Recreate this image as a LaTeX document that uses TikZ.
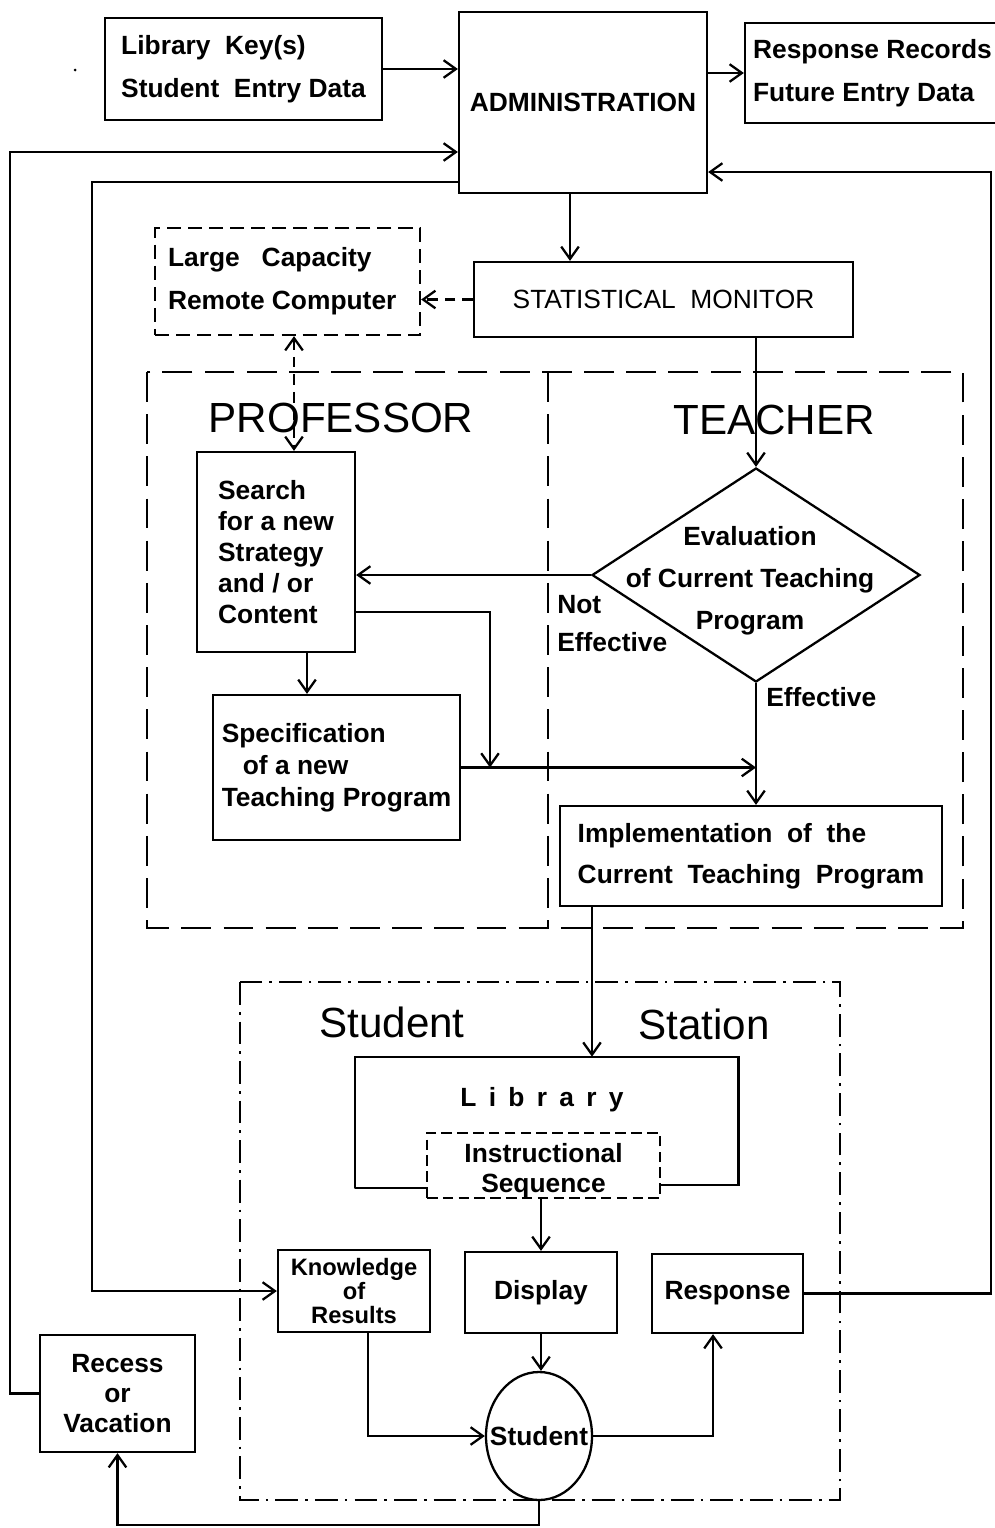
\documentclass[tikz,border=0pt]{standalone}
\usepackage{fontspec}
\setmainfont{Liberation Sans}
\usetikzlibrary{arrows.meta,shapes.geometric}
\newcommand{\pu}{0.02cm}
\newcommand{\lsp}{\hspace{7pt}}
\tikzset{
  lw/.style={line width=1.3pt},
  box/.style={draw,lw,inner sep=0pt,align=center,fill=white},
  tx/.style={inner sep=0pt,align=center},
  bf/.style={font=\bfseries\fontsize{15}{#1}\selectfont},
  arr/.style={lw,-{Straight Barb[length=7pt,width=10pt]}},
  darr/.style={lw,dash pattern=on 6pt off 4pt,{Straight Barb[length=7pt,width=10pt]}-{Straight Barb[length=7pt,width=10pt]}},
  sdash/.style={dash pattern=on 8pt off 4pt},
  bigdash/.style={lw,dash pattern=on 17pt off 7pt},
  dashdot/.style={lw,dash pattern=on 13pt off 4pt on 1.5pt off 4pt},
  big/.style={inner sep=0pt,font=\fontsize{24}{28}\selectfont}
}
\begin{document}
\begin{tikzpicture}[x=0.02cm,y=-0.02cm]
\useasboundingbox (0,0) rectangle (994,1528);
\fill[white] (0,0) rectangle (994,1528);

% top row
\node[box,bf=24.5,align=left,minimum width=277*\pu,minimum height=102*\pu,text depth=3pt] (lib) at (243.5,69) {Library\ \ Key(s)\\Student\ \ Entry Data};
\node[box,bf=18,minimum width=248*\pu,minimum height=181*\pu] (adm) at (583,102.5) {ADMINISTRATION};
\node[box,bf=24.5,align=left,minimum width=255*\pu,minimum height=100*\pu,text depth=3pt] (resp) at (872.5,73) {Response Records\\Future Entry Data};
\fill (75,70) circle (1.5);

% statistical monitor and remote computer
\node[box,minimum width=379*\pu,minimum height=75*\pu,font=\fontsize{15}{18}\selectfont] (sm) at (663.5,299.5) {STATISTICAL\ \ MONITOR};
\node[box,sdash,bf=24.5,align=left,minimum width=265*\pu,minimum height=107*\pu] (lcrc) at (287.5,281.5) {Large\ \ \ Capacity\\Remote\ Computer\hspace*{6pt}};

% professor / teacher frame
\draw[bigdash] (147,372) rectangle (963,928);
\draw[bigdash] (548,372) -- (548,928);
\node[big] (prof) at (341,418) {PROFESSOR};
\node[big] (teach) at (774,420) {TEACHER};

\node[box,bf=17.6,align=left,minimum width=158*\pu,minimum height=200*\pu] (search) at (276,552) {Search\\for a new\\Strategy\\and / or\\Content};
\node[box,bf=18.2,align=left,minimum width=247*\pu,minimum height=145*\pu] (spec) at (336.5,767.5) {Specification\\\hspace*{12pt}of a new\\Teaching Program};
\node[diamond,draw,lw,inner sep=0pt,minimum width=328*\pu,minimum height=214*\pu] (dia) at (756,575) {};
\node[tx,bf=24] (diat) at (750,581) {Evaluation\\of Current Teaching\\Program};
\node[tx,bf=21.6,align=left,anchor=west] (noteff) at (557,624) {Not\\Effective};
\node[tx,bf=18,anchor=west] (eff) at (766,697) {Effective};
\node[box,bf=23.3,align=left,minimum width=382*\pu,minimum height=100*\pu] (impl) at (751,856) {Implementation\ \ of\ \ the\\Current\ \ Teaching\ \ Program};

% student station
\draw[dashdot] (240,982) rectangle (840,1500);
\node[big] (sst) at (392,1022) {Student};
\node[big] (sstn) at (704,1024) {Station};

\node[inner sep=0pt,minimum width=383*\pu,minimum height=131*\pu] (libr) at (546.5,1122.5) {};
\draw[lw] (427,1188) -| (libr.south west) -- (libr.north west) -- (libr.north east) |- (660,1185);
\node[tx,bf=18] (librt) at (542,1100) {L\lsp i\lsp b\lsp r\lsp a\lsp r\lsp y};
\node[box,minimum width=233*\pu,minimum height=65*\pu,dash pattern=on 6pt off 3pt] (iseq) at (543.5,1165.5) {};
\node[tx,bf=17] (iseqt) at (543.5,1171) {Instructional\\Sequence};

\node[box,minimum width=152*\pu,minimum height=82*\pu,font=\bfseries\fontsize{13.5}{13.5}\selectfont] (know) at (354,1291) {Knowledge\\of\\Results};
\node[box,bf=18,minimum width=152*\pu,minimum height=81*\pu] (disp) at (541,1292.5) {Display};
\node[box,bf=18,minimum width=151*\pu,minimum height=79*\pu] (respn) at (727.5,1293.5) {Response};
\node[ellipse,draw,lw,inner sep=0pt,minimum width=106*\pu,minimum height=128*\pu] (stud) at (539,1436) {};
\node[tx,bf=18] (studt) at (539,1436) {Student};
\node[box,bf=17,minimum width=155*\pu,minimum height=117*\pu] (recess) at (117.5,1393.5) {Recess\\or\\Vacation};

% helper coordinates
\coordinate (lA) at (10,152);
\coordinate (lB) at (92,182);
\coordinate (rA) at (991,172);
\coordinate (xa) at (570,0);
\coordinate (xb) at (294,0);
\coordinate (xc) at (307,0);
\coordinate (j1) at (490,612);
\coordinate (xf) at (592,0);
\coordinate (xg) at (368,0);
\coordinate (xh) at (713,0);
\coordinate (yb) at (0,1525);

% connectors
\draw[arr] (lib.east) -- (lib.east -| adm.west);
\draw[arr] (adm.east |- resp.west) -- (resp.west);
\draw[arr] (recess.west) -| (lA) -- (lA -| adm.west);
\draw[arr] (lB -| adm.west) -- (lB) |- (know.west);
\draw[arr] (respn.east) -| (rA) -- (rA -| adm.east);
\draw[arr] (adm.south -| xa) -- (sm.north -| xa);
\draw[arr,dash pattern=on 6pt off 4pt] (sm.west) -- (lcrc.east |- sm.west);
\draw[darr] (lcrc.south -| xb) -- (search.north -| xb);
\draw[arr] (sm.south -| dia.north) -- (dia.north);
\draw[arr] (dia.west) -- (search.east |- dia.west);
\draw[arr] (search.south -| xc) -- (spec.north -| xc);
\draw[arr] (search.east |- j1) -| (spec.east -| j1);
\draw[arr] (spec.east) -- (spec.east -| dia.south);
\draw[arr] (dia.south) -- (impl.north -| dia.south);
\draw[arr] (impl.south -| xf) -- (libr.north -| xf);
\draw[arr] (iseq.south -| disp.north) -- (disp.north);
\draw[arr] (disp.south) -- (disp.south |- stud.north);
\draw[arr] (know.south -| xg) |- (stud.west);
\draw[arr] (stud.east) -| (respn.south -| xh);
\draw[arr] (stud.south) -- (stud.south |- yb) -| (recess.south);
\end{tikzpicture}
\end{document}
